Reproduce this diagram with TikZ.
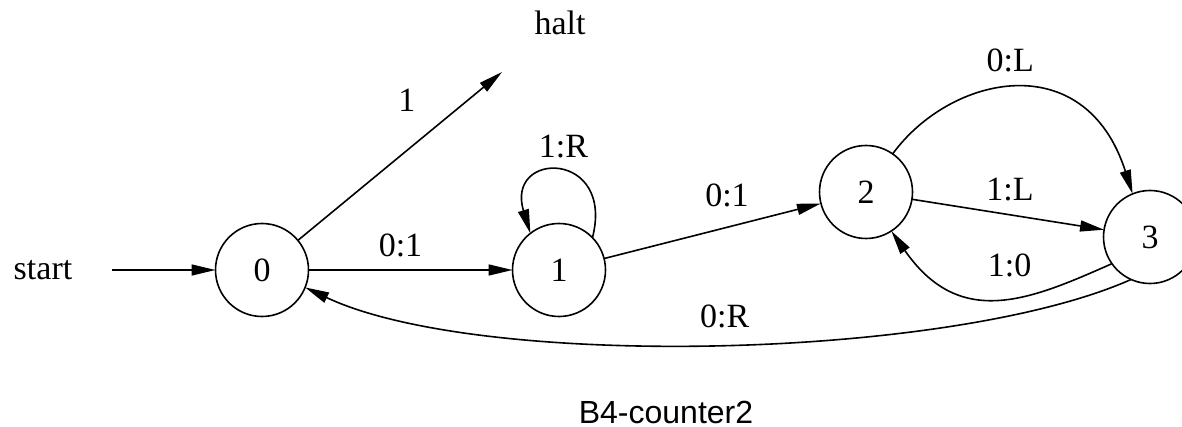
\documentclass[tikz,border=0pt]{standalone}
\usepackage{fontspec}
\setmainfont{Liberation Serif}
\newfontfamily\arialfont{Liberation Sans}
\usetikzlibrary{arrows.meta}
\begin{document}
\begin{tikzpicture}[x=0.5pt, y=-0.5pt,
  state/.style={circle, draw, line width=0.8pt, minimum size=46.5pt, inner sep=0pt, outer sep=0pt, font=\fontsize{17}{20}\selectfont},
  lbl/.style={font=\fontsize{17}{20}\selectfont, inner sep=0pt},
  arr/.style={-{Triangle[length=12pt,width=5.5pt]}, line width=0.8pt},
]
\useasboundingbox (0,0) rectangle (1182,427);
\node[state] (n0) at (262,270) {0};
\node[state] (n1) at (559,270) {1};
\node[state] (n2) at (866,192) {2};
\node[state] (n3) at (1150,237) {3};
\node[lbl] (start) at (43,270) {start};
\coordinate (s0) at (112,270);
\draw[arr] (s0) -- (n0);
\node[lbl] (halt) at (560,23) {halt};
\coordinate (h) at (502,72);
\draw[arr] (n0) -- (h) node[lbl, midway, shift={(7,-56)}] {1};
\draw[arr] (n0) -- (n1) node[lbl, midway, shift={(-10,-25)}] {0:1};
\draw[arr] (n1.44) .. controls (615,150) and (505,150) .. (n1.128) node[lbl, pos=0.5, shift={(3,-25)}] {1:R};
\draw[arr] (n1) -- (n2) node[lbl, midway, shift={(14.5,-36)}] {0:1};
\draw[arr] (n2) -- (n3) node[lbl, midway, shift={(2,-24.5)}] {1:L};
\draw[arr] (n2.55) .. controls (950,75) and (1085,45) .. (n3.112) node[lbl, pos=0.5, shift={(-6,-28)}] {0:L};
\draw[arr] (n3.215) .. controls (1030,300) and (960,330) .. (n2.303) node[lbl, pos=0.5, shift={(13,-33)}] {1:0};
\draw[arr] (n3.246) .. controls (950,360) and (480,370) .. (n0.338) node[lbl, pos=0.5, shift={(9,-28)}] {0:R};
\node[font=\arialfont\fontsize{16}{19}\selectfont, anchor=base, inner sep=0pt] (cap) at (666,423) {B4-counter2};
\end{tikzpicture}
\end{document}
